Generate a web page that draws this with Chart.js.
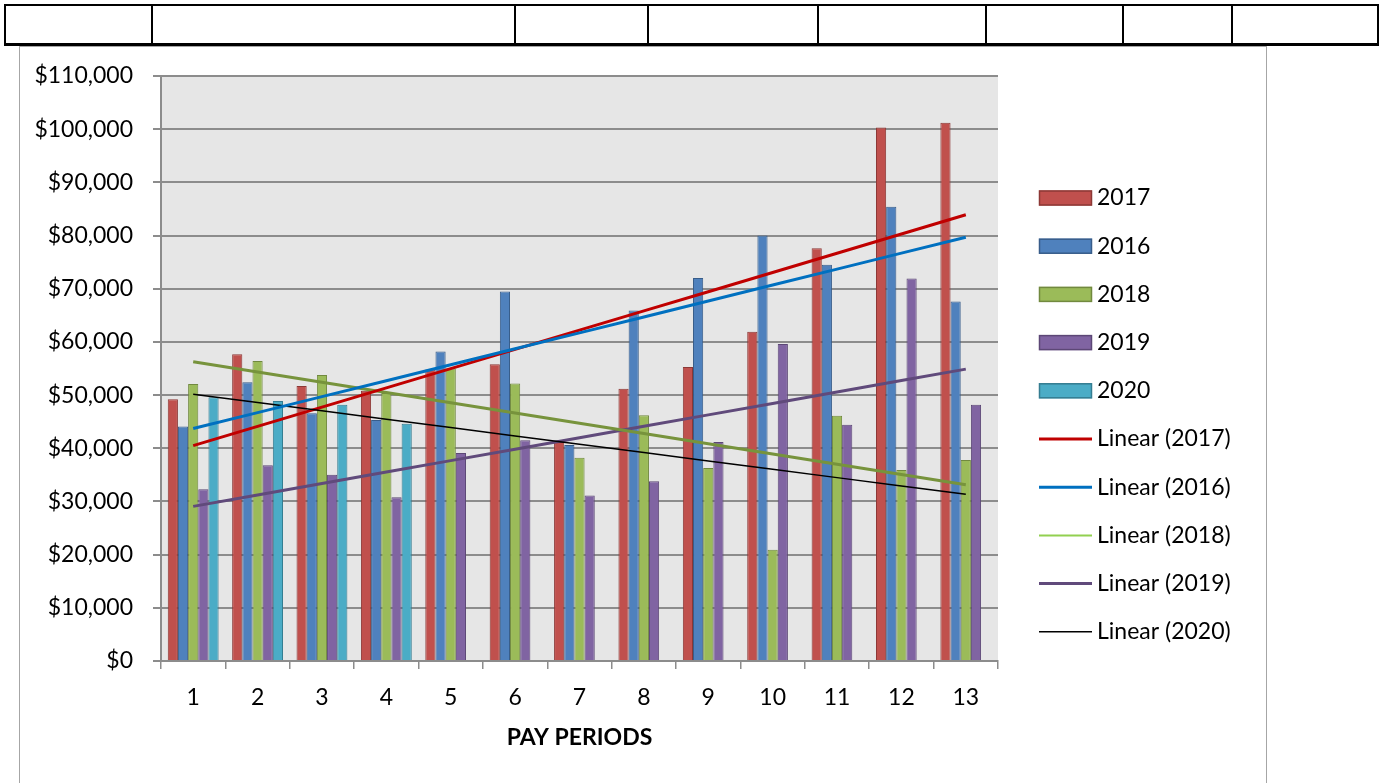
<!DOCTYPE html>
<html>
<head>
<meta charset="utf-8">
<title>Pay Periods</title>
<script src="https://cdn.jsdelivr.net/npm/chart.js@4/dist/chart.umd.min.js"></script>
<style>
  html, body { margin: 0; padding: 0; background: #fff; width: 1383px; height: 783px; overflow: hidden; }
  .frame { position: absolute; left: 19px; top: 46px; width: 1246px; height: 760px; border: 1px solid #A6A6A6; }
  .hdr { position: absolute; left: 4px; top: 4px; width: 1371px; height: 37px; border: 2px solid #000; border-bottom-width: 3px; background: #fff; }
  .hdr div { position: absolute; top: 0; bottom: 0; width: 0; border-left: 2px solid #000; }
  #chart { position: absolute; left: 0; top: 0; }
</style>
</head>
<body>
<div class="frame"></div>
<div class="hdr">
  <div style="left:145px"></div>
  <div style="left:508px"></div>
  <div style="left:641px"></div>
  <div style="left:811px"></div>
  <div style="left:979px"></div>
  <div style="left:1116px"></div>
  <div style="left:1225px"></div>
</div>
<canvas id="chart" width="1383" height="783"></canvas>
<script>
// Pay period totals per year
const periods = ['1', '2', '3', '4', '5', '6', '7', '8', '9', '10', '11', '12', '13'];
const sales2017 = [49200, 57700, 51700, 50800, 54800, 55800, 41200, 51200, 55300, 61900, 77600, 100300, 101200];
const sales2016 = [44100, 52400, 46600, 45300, 58200, 69500, 40600, 65900, 72000, 80000, 74500, 85400, 67600];
const sales2018 = [52100, 56400, 53800, 50400, 55000, 52200, 38200, 46200, 36300, 20900, 46100, 35900, 37800];
const sales2019 = [32300, 36800, 35000, 30800, 39100, 41500, 31100, 33800, 41200, 59600, 44400, 71900, 48200];
const sales2020 = [49600, 48900, 48200, 44600, null, null, null, null, null, null, null, null, null];
const yMin = 0;
const yMax = 110000;
const yStep = 10000;

// Least-squares trend evaluated at every pay period
function linearTrend(values) {
  const pts = values.map((v, i) => [i + 1, v]).filter(p => p[1] !== null);
  const n = pts.length;
  const mx = pts.reduce((s, p) => s + p[0], 0) / n;
  const my = pts.reduce((s, p) => s + p[1], 0) / n;
  let sxy = 0, sxx = 0;
  pts.forEach(p => { sxy += (p[0] - mx) * (p[1] - my); sxx += (p[0] - mx) * (p[0] - mx); });
  const b = sxy / sxx;
  const a = my - b * mx;
  return periods.map((_, i) => a + b * (i + 1));
}

function barSet(label, data, fill, edge) {
  return { type: 'bar', label, data, backgroundColor: fill, borderColor: edge, borderWidth: 1, order: 2,
           categoryPercentage: 0.79, barPercentage: 1.0 };
}
function trendSet(label, data, color, width, order, legendColor, legendWidth) {
  return { type: 'line', label, data, borderColor: color, backgroundColor: color, borderWidth: width,
           pointRadius: 0, tension: 0, fill: false, order,
           legendColor: legendColor || color, legendWidth: legendWidth || width };
}

const datasets = [
  barSet('2017', sales2017, '#C0504D', '#8C3836'),
  barSet('2016', sales2016, '#4F81BD', '#385D8A'),
  barSet('2018', sales2018, '#9BBB59', '#71893F'),
  barSet('2019', sales2019, '#8064A2', '#5C4776'),
  barSet('2020', sales2020, '#4BACC6', '#357D91'),
  trendSet('Linear (2017)', linearTrend(sales2017), '#C00000', 3, 1),
  trendSet('Linear (2016)', linearTrend(sales2016), '#0070C0', 3, 0.5),
  trendSet('Linear (2018)', linearTrend(sales2018), '#77933C', 3, 1, '#92D050', 2),
  trendSet('Linear (2019)', linearTrend(sales2019), '#604A7B', 3, 1),
  trendSet('Linear (2020)', linearTrend(sales2020), '#000000', 1.5, 0.5)
];

// Light grey plot area
const plotBackground = {
  id: 'plotBackground',
  beforeDraw(chart) {
    const { ctx, chartArea: a } = chart;
    ctx.save();
    ctx.fillStyle = '#E6E6E6';
    ctx.fillRect(a.left, a.top, a.right - a.left, a.bottom - a.top);
    ctx.restore();
  }
};

// Legend column on the right
const sideLegend = {
  id: 'sideLegend',
  afterDraw(chart) {
    const ctx = chart.ctx;
    const x0 = 1039, sw = 53, sh = 15, textX = 1097, y0 = 198, gap = 48.2;
    ctx.save();
    ctx.font = '23px Lato';
    ctx.textBaseline = 'middle';
    ctx.textAlign = 'left';
    chart.data.datasets.forEach((ds, i) => {
      const y = y0 + i * gap;
      if (ds.type === 'bar') {
        ctx.fillStyle = ds.backgroundColor;
        ctx.fillRect(x0, y - sh / 2, sw, sh);
        ctx.strokeStyle = ds.borderColor;
        ctx.lineWidth = 1.5;
        ctx.strokeRect(x0 + 0.5, y - sh / 2 + 0.5, sw - 1, sh - 1);
      } else {
        ctx.strokeStyle = ds.legendColor;
        ctx.lineWidth = ds.legendWidth;
        ctx.beginPath();
        ctx.moveTo(x0, y);
        ctx.lineTo(x0 + sw, y);
        ctx.stroke();
      }
      ctx.fillStyle = '#000';
      ctx.fillText(ds.label, textX, y);
    });
    ctx.restore();
  }
};

function build() {
  Chart.defaults.font.family = 'Lato';
  Chart.defaults.color = '#000';
  new Chart(document.getElementById('chart'), {
    data: { labels: periods, datasets },
    options: {
      responsive: false,
      animation: false,
      devicePixelRatio: 1,
      layout: { padding: { left: 0, right: 385, top: 76, bottom: 0 } },
      plugins: { legend: { display: false }, tooltip: { enabled: false } },
      scales: {
        x: {
          grid: { drawOnChartArea: false, drawTicks: true, tickLength: 8, color: '#8C8C8C', lineWidth: 1.5, offset: true },
          border: { color: '#8C8C8C', width: 2 },
          ticks: { color: '#000', font: { size: 23 }, padding: 15, maxRotation: 0, autoSkip: false },
          title: { display: true, text: 'PAY PERIODS', color: '#000', font: { size: 23, weight: 'bold' }, padding: { top: 0, bottom: 32 } },
          afterFit(s) { s.height = 122; }
        },
        y: {
          min: yMin, max: yMax,
          ticks: { stepSize: yStep, color: '#000', font: { size: 23 }, padding: 20,
                   callback: v => '$' + v.toLocaleString('en-US') },
          grid: { color: '#8C8C8C', lineWidth: 2, tickLength: 8 },
          border: { color: '#8C8C8C', width: 2 },
          afterFit(s) { s.width = 161; }
        }
      }
    },
    plugins: [plotBackground, sideLegend]
  });
}

Promise.all([
  document.fonts.load('23px Lato'),
  document.fonts.load('bold 23px Lato')
]).then(build, build);
</script>
</body>
</html>
